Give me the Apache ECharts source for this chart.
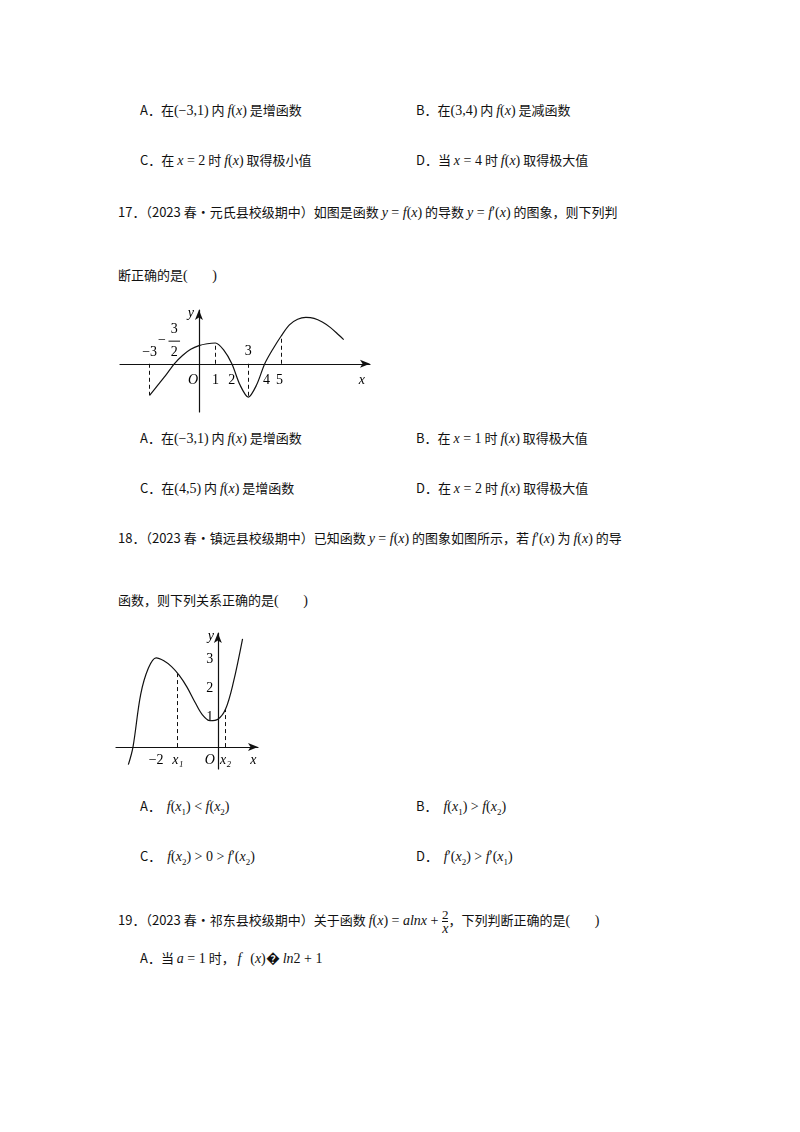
<!DOCTYPE html>
<html><head><meta charset="utf-8">
<script src="https://cdn.jsdelivr.net/npm/echarts@6/dist/echarts.min.js"></script>
<style>
body{margin:0;width:800px;height:1132px;background:#fff;position:relative;font-family:"Noto Sans CJK SC",sans-serif;font-size:13px;color:#111}
.t{position:absolute;white-space:nowrap;line-height:20px}
i,.m{font-family:"Liberation Serif",serif;font-size:14px}
i{font-style:italic}
.fr{display:inline-block;vertical-align:middle;text-align:center;font-family:"Liberation Serif",serif;font-size:13px;line-height:13px}
.fr span{display:block}
.fr span:first-child{border-bottom:1px solid #111}
</style></head><body>
<div class="t" style="left:140px;top:100px">A．在<span class="m">(−3,1)</span> 内 <i>f</i><span class="m">(</span><i>x</i><span class="m">)</span> 是增函数</div>
<div class="t" style="left:416px;top:100px">B．在<span class="m">(3,4)</span> 内 <i>f</i><span class="m">(</span><i>x</i><span class="m">)</span> 是减函数</div>
<div class="t" style="left:140px;top:150px">C．在 <i>x</i><span class="m"> = 2</span> 时 <i>f</i><span class="m">(</span><i>x</i><span class="m">)</span> 取得极小值</div>
<div class="t" style="left:416px;top:150px">D．当 <i>x</i><span class="m"> = 4</span> 时 <i>f</i><span class="m">(</span><i>x</i><span class="m">)</span> 取得极大值</div>
<div class="t" style="left:118px;top:202px">17．（2023 春•元氏县校级期中）如图是函数 <i>y</i><span class="m"> = </span><i>f</i><span class="m">(</span><i>x</i><span class="m">)</span> 的导数 <i>y</i><span class="m"> = </span><i>f</i><span class="m">′(</span><i>x</i><span class="m">)</span> 的图象，则下列判</div>
<div class="t" style="left:118px;top:265px">断正确的是<span class="m">(&nbsp;&nbsp;&nbsp;&nbsp;&nbsp;&nbsp;&nbsp;)</span></div>
<div id="c1" style="position:absolute;left:110px;top:300px;width:280px;height:120px"></div>
<div class="t" style="left:140px;top:428px">A．在<span class="m">(−3,1)</span> 内 <i>f</i><span class="m">(</span><i>x</i><span class="m">)</span> 是增函数</div>
<div class="t" style="left:416px;top:428px">B．在 <i>x</i><span class="m"> = 1</span> 时 <i>f</i><span class="m">(</span><i>x</i><span class="m">)</span> 取得极大值</div>
<div class="t" style="left:140px;top:478px">C．在<span class="m">(4,5)</span> 内 <i>f</i><span class="m">(</span><i>x</i><span class="m">)</span> 是增函数</div>
<div class="t" style="left:416px;top:478px">D．在 <i>x</i><span class="m"> = 2</span> 时 <i>f</i><span class="m">(</span><i>x</i><span class="m">)</span> 取得极大值</div>
<div class="t" style="left:118px;top:528px">18．（2023 春•镇远县校级期中）已知函数 <i>y</i><span class="m"> = </span><i>f</i><span class="m">(</span><i>x</i><span class="m">)</span> 的图象如图所示，若 <i>f</i><span class="m">′(</span><i>x</i><span class="m">)</span> 为 <i>f</i><span class="m">(</span><i>x</i><span class="m">)</span> 的导</div>
<div class="t" style="left:118px;top:590px">函数，则下列关系正确的是<span class="m">(&nbsp;&nbsp;&nbsp;&nbsp;&nbsp;&nbsp;&nbsp;)</span></div>
<div id="c2" style="position:absolute;left:110px;top:625px;width:160px;height:160px"></div>
<div class="t" style="left:140px;top:796px">A．&nbsp;&nbsp;<i>f</i><span class="m">(</span><i>x</i><sub class="m" style="font-size:9px">1</sub><span class="m">) &lt; </span><i>f</i><span class="m">(</span><i>x</i><sub class="m" style="font-size:9px">2</sub><span class="m">)</span></div>
<div class="t" style="left:416px;top:796px">B．&nbsp;&nbsp;<i>f</i><span class="m">(</span><i>x</i><sub class="m" style="font-size:9px">1</sub><span class="m">) &gt; </span><i>f</i><span class="m">(</span><i>x</i><sub class="m" style="font-size:9px">2</sub><span class="m">)</span></div>
<div class="t" style="left:140px;top:846px">C．&nbsp;&nbsp;<i>f</i><span class="m">(</span><i>x</i><sub class="m" style="font-size:9px">2</sub><span class="m">) &gt; 0 &gt; </span><i>f</i><span class="m">′(</span><i>x</i><sub class="m" style="font-size:9px">2</sub><span class="m">)</span></div>
<div class="t" style="left:416px;top:846px">D．&nbsp;&nbsp;<i>f</i><span class="m">′(</span><i>x</i><sub class="m" style="font-size:9px">2</sub><span class="m">) &gt; </span><i>f</i><span class="m">′(</span><i>x</i><sub class="m" style="font-size:9px">1</sub><span class="m">)</span></div>
<div class="t" style="left:118px;top:905px;line-height:30px">19．（2023 春•祁东县校级期中）关于函数 <i>f</i><span class="m">(</span><i>x</i><span class="m">) = </span><i>alnx</i><span class="m"> + </span><span class="fr"><span>2</span><span><i>x</i></span></span>，下列判断正确的是<span class="m">(&nbsp;&nbsp;&nbsp;&nbsp;&nbsp;&nbsp;&nbsp;)</span></div>
<div class="t" style="left:140px;top:948px">A．当 <i>a</i><span class="m"> = 1</span> 时，&nbsp;<i>f</i>&nbsp;&nbsp;&nbsp;<span class="m">(</span><i>x</i><span class="m">)�</span> <i>ln</i><span class="m">2 + 1</span></div>
<script>
// 导函数图象 y = f'(x)
var dX = [-3,-2.5,-2,-1.5,-1,-0.5,0,0.5,1,1.5,2,2.5,3,3.5,4,4.5,5,5.5,6,6.5,7,7.5,8,8.5,8.8];
var dY = [-1.7,-1.15,-0.6,0,0.45,0.78,0.98,1.08,1.12,0.75,0,-1.15,-1.8,-1.15,0,0.8,1.5,2.1,2.4,2.5,2.45,2.25,1.95,1.55,1.3];
var dDash = [-3,1,3,5];
// 原函数图象 y = f(x)
var fX = [-2.9,-2.75,-2.5,-2.25,-2,-1.75,-1.5,-1.25,-1,-0.75,-0.5,-0.25,0,0.25,0.5,0.8];
var fY = [-0.6,0,1.8,2.7,3.05,2.95,2.75,2.45,2.05,1.55,1.1,0.9,0.95,1.3,2.2,3.7];
var fDash = [-1.3,0.25];

var serif = {fontFamily:'Liberation Serif',fontSize:14,color:'#111'};
function pairs(xs, ys){ return xs.map(function(x,i){ return [x, ys[i]] }) }
function interp(xs, ys, x){
	for(var i=0;i<xs.length-1;i++){
		if(x>=xs[i] && x<=xs[i+1]) return ys[i]+(ys[i+1]-ys[i])*(x-xs[i])/(xs[i+1]-xs[i]);
	}
	return 0;
}
function dashes(xs, ys, list){
	return list.map(function(x){ return [{coord:[x,0]},{coord:[x,interp(xs,ys,x)]}] })
}
function axisOpt(min,max){
	return {type:'value',min:min,max:max,axisLine:{onZero:true,lineStyle:{color:'#111',width:1.2},symbol:['none','arrow'],symbolSize:[6,10]},
		axisTick:{show:false},axisLabel:{show:false},splitLine:{show:false}}
}
function labels(chart, list){
	return list.map(function(l){
		var p = chart.convertToPixel({gridIndex:0},[l[0],l[1]]);
		return {type:'text',x:p[0]+(l[3]||0),y:p[1]+(l[4]||0),style:Object.assign({text:l[2],align:'center',verticalAlign:'middle'},serif,l[5]||{})}
	})
}

var c1 = echarts.init(document.getElementById('c1'));
c1.setOption({
	animation:false,
	grid:{left:10,right:20,top:10,bottom:8},
	xAxis:axisOpt(-4.8,10.4),
	yAxis:axisOpt(-2.6,2.9),
	series:[{type:'line',smooth:0.3,symbol:'none',data:pairs(dX,dY),lineStyle:{color:'#111',width:1.2},
		markLine:{silent:true,symbol:'none',label:{show:false},lineStyle:{color:'#111',type:[4,3],width:1},data:dashes(dX,dY,dDash)}}]
});
c1.setOption({graphic:labels(c1,[
	[-3,0.6,'−3'],[-1.5,1.85,'3'],[-1.5,0.6,'2'],[-2.25,1.25,'−'],[0,-0.9,'O',-6,0,{fontStyle:'italic'}],
	[1,-0.9,'1'],[2,-0.9,'2'],[3,0.65,'3'],[4.1,-0.9,'4'],[4.9,-0.9,'5'],[9.9,-0.9,'x',0,0,{fontStyle:'italic'}],[0,2.7,'y',-8,0,{fontStyle:'italic'}]
]).concat([(function(){var a=c1.convertToPixel({gridIndex:0},[-1.85,1.22]),b=c1.convertToPixel({gridIndex:0},[-1.15,1.22]);
	return {type:'line',shape:{x1:a[0],y1:a[1],x2:b[0],y2:b[1]},style:{stroke:'#111',lineWidth:1}}})()])});

var c2 = echarts.init(document.getElementById('c2'));
c2.setOption({
	animation:false,
	grid:{left:6,right:12,top:8,bottom:16},
	xAxis:axisOpt(-3.3,1.3),
	yAxis:axisOpt(-0.75,3.9),
	series:[{type:'line',smooth:0.35,symbol:'none',data:pairs(fX,fY),lineStyle:{color:'#111',width:1.2},
		markLine:{silent:true,symbol:'none',label:{show:false},lineStyle:{color:'#111',type:[4,3],width:1},data:dashes(fX,fY,fDash)}}]
});
c2.setOption({graphic:labels(c2,[
	[-2,-0.45,'−2'],[-1.3,-0.45,'x₁',0,0,{fontStyle:'italic'}],[0,-0.45,'O',-8,0,{fontStyle:'italic'}],[0.25,-0.45,'x₂',0,0,{fontStyle:'italic'}],
	[1.15,-0.45,'x',0,0,{fontStyle:'italic'}],[0,3.8,'y',-7,0,{fontStyle:'italic'}],
	[0,1,'1',-8],[0,2,'2',-8],[0,3,'3',-8]
])});
</script>
</body></html>
